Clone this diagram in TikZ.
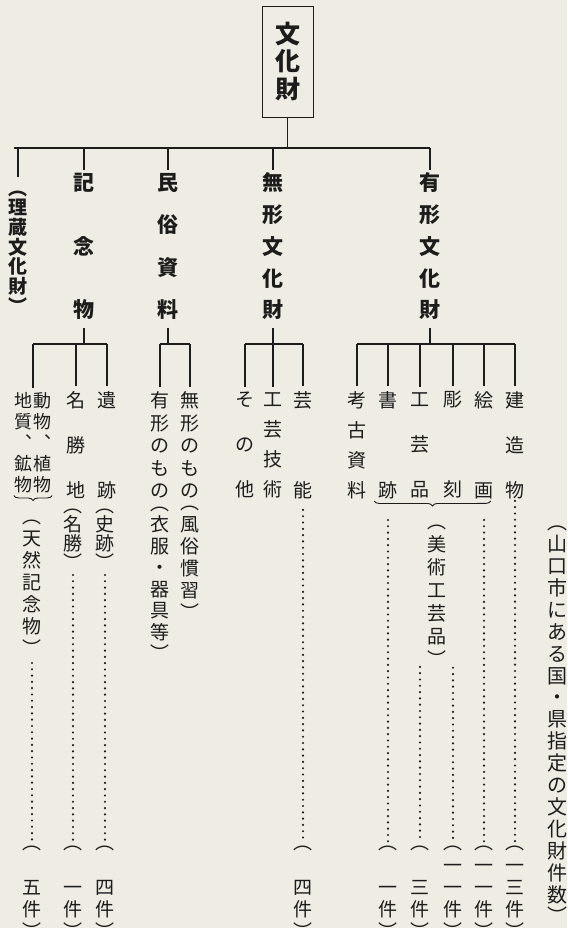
\documentclass[tikz,border=0pt]{standalone}
\usepackage{fontspec}
\newfontfamily\jp{Noto Sans CJK JP}
\usetikzlibrary{positioning, decorations.pathreplacing}
\definecolor{paper}{RGB}{239,236,228}
\definecolor{ink}{RGB}{28,28,28}
\lineskiplimit=-100pt

\begin{document}
\begin{tikzpicture}[x=1pt, y=-1pt,
  every node/.style={inner sep=0pt, align=center, text=ink},
  head/.style={font={\jp\bfseries\fontsize{21}{#1}\selectfont}},
  item/.style={font={\jp\fontsize{19}{#1}\selectfont}},
  link/.style={draw=ink, line width=1.2pt},
  dots/.style={draw=ink, line width=2.4pt, line cap=round, dash pattern=on 0pt off 6.3pt},
  curly/.style={draw=ink, line width=0.9pt, decorate, decoration={brace, mirror, amplitude=5pt, raise=2pt}}]
\useasboundingbox (0,0) rectangle (567,928);
\fill[paper] (0,0) rectangle (567,928);

% Root box
\node[draw=ink, line width=0.9pt, minimum width=51pt, minimum height=111pt,
      font={\jp\bfseries\fontsize{25}{27.5}\selectfont}] (root) at (287.5,61.5) {文\\化\\財};

% Main bar
\coordinate (busL) at (14,148);
\coordinate (busR) at (430,148);
\draw[link, line width=1.9pt] (busL) -- (busR);
\draw[link] (root) -- (root |- busL);

% First level
\node[head=19.7, font={\jp\bfseries\fontsize{19}{19.7}\selectfont}] (maizo) at (18,252) {︵\\理\\蔵\\文\\化\\財\\︶};
\node[head=63.5] (kinen) at (84,246.5) {記\\念\\物};
\node[head=42.33] (minzoku) at (168,246.5) {民\\俗\\資\\料};
\node[head=31.75] (mukei) at (273,246.5) {無\\形\\文\\化\\財};
\node[head=31.75] (yukei) at (430,246.5) {有\\形\\文\\化\\財};

\draw[link] (maizo |- busL) -- ([yshift=13pt]maizo.north);
\foreach \n in {kinen, minzoku, mukei, yukei}
  \draw[link] (\n |- busL) -- ([yshift=3pt]\n.north);

% Kinenbutsu group
\coordinate (kbar) at (84,344);
\node[font={\jp\fontsize{18}{21}\selectfont}] (shizen) at (33,443)
  {地\kern2pt動\\質\kern2pt物\\︑\kern2pt︑\\鉱\kern2pt植\\物\kern2pt物};
\node[item=45] (meisho) at (76,445) {名\\勝\\地};
\node[item=90] (iseki) at (107,445) {遺\\跡};
\draw[curly] (shizen.south west) -- (shizen.south east);
\node[item=22] (tennen) at (32,588) {︵\\天\\然\\記\\念\\物\\︶};
\node[item=19] (meisho2) at (73,539.5) {︵\\名\\勝\\︶};
\node[item=19] (shiseki) at (105,539.5) {︵\\史\\跡\\︶};

\draw[link] ([yshift=-8pt]kinen.south) -- (kbar);
\draw[link] (shizen |- kbar) -- (iseki |- kbar);
\foreach \n in {shizen, meisho, iseki}
  \draw[link] (\n |- kbar) -- ([yshift=5pt]\n.north);

% Minzoku shiryo group
\coordinate (mbar) at (168,344);
\node[item=22.5] (yumono) at (160,445) {有\\形\\の\\も\\の};
\node[item=22.5] (mumono) at (190,445) {無\\形\\の\\も\\の};
\node[item=21.5] (ifuku) at (160,583.5) {︵\\衣\\服\\・\\器\\具\\等\\︶};
\node[item=22] (fuzoku) at (190,563) {︵\\風\\俗\\慣\\習\\︶};

\draw[link] ([yshift=-8pt]minzoku.south) -- (mbar);
\draw[link] (yumono |- mbar) -- (mumono |- mbar);
\foreach \n in {yumono, mumono}
  \draw[link] (\n |- mbar) -- ([yshift=5pt]\n.north);

% Mukei bunkazai group
\coordinate (nbar) at (273,344);
\node[item=45] (sonota) at (245,445) {そ\\の\\他};
\node[item=30] (gijutsu) at (273,445) {工\\芸\\技\\術};
\node[item=90] (geino) at (303,445) {芸\\能};

\draw[link] ([yshift=-8pt]mukei.south) -- (nbar);
\draw[link] (sonota |- nbar) -- (geino |- nbar);
\foreach \n in {sonota, gijutsu, geino}
  \draw[link] (\n |- nbar) -- ([yshift=5pt]\n.north);

% Yukei bunkazai group
\coordinate (ybar) at (430,344);
\node[item=30] (kouko) at (357,445) {考\\古\\資\\料};
\node[item=90] (shoseki) at (388,445) {書\\跡};
\node[item=45] (kougei) at (420,445) {工\\芸\\品};
\node[item=90] (chokoku) at (453,445) {彫\\刻};
\node[item=90] (kaiga) at (484,445) {絵\\画};
\node[item=45] (kenzo) at (515,445) {建\\造\\物};
\draw[curly] ([xshift=-4pt]shoseki.south west) -- ([xshift=-3pt]kaiga.south east);
\node[item=23] (bijutsu) at (437,596) {︵\\美\\術\\工\\芸\\品\\︶};

\draw[link] ([yshift=-8pt]yukei.south) -- (ybar);
\draw[link] (kouko |- ybar) -- (kenzo |- ybar);
\foreach \n in {kouko, shoseki, kougei, chokoku, kaiga, kenzo}
  \draw[link] (\n |- ybar) -- ([yshift=5pt]\n.north);

% Counts
\node[item=22.25] (cTennen) at (32,892.5) {︵\\　\\五\\件\\︶};
\node[item=22.25] (cMeisho) at (73,892.5) {︵\\　\\一\\件\\︶};
\node[item=22.25] (cShiseki) at (105,892.5) {︵\\　\\四\\件\\︶};
\node[item=22.25] (cGeino) at (303,892.5) {︵\\　\\四\\件\\︶};
\node[item=22.25] (cShoseki) at (388,892.5) {︵\\　\\一\\件\\︶};
\node[item=22.25] (cKougei) at (420,892.5) {︵\\　\\三\\件\\︶};
\node[item=22.25] (cChokoku) at (453,892.5) {︵\\一\\一\\件\\︶};
\node[item=22.25] (cKaiga) at (484,892.5) {︵\\一\\一\\件\\︶};
\node[item=22.25] (cKenzo) at (515,892.5) {︵\\一\\三\\件\\︶};

\draw[dots, shorten <=7pt, shorten >=4pt] (tennen) -- (cTennen);
\draw[dots, shorten <=5pt, shorten >=4pt] (meisho2) -- (cMeisho);
\draw[dots, shorten <=5pt, shorten >=4pt] (shiseki) -- (cShiseki);
\draw[dots, shorten <=11pt, shorten >=4pt] (geino) -- (cGeino);
\draw[dots, shorten <=21pt, shorten >=4pt] (shoseki) -- (cShoseki);
\draw[dots, shorten <=169pt, shorten >=4pt] (kougei) -- (cKougei);
\draw[dots, shorten <=169pt, shorten >=4pt] (chokoku) -- (cChokoku);
\draw[dots, shorten <=21pt, shorten >=4pt] (kaiga) -- (cKaiga);
\draw[dots, shorten <=2pt, shorten >=4pt] (kenzo) -- (cKenzo);

% Caption
\node[item=21.9, font={\jp\fontsize{20}{21.9}\selectfont}] (title) at (557,725)
  {︵\\山\\口\\市\\に\\あ\\る\\国\\・\\県\\指\\定\\の\\文\\化\\財\\件\\数\\︶};

\end{tikzpicture}
\end{document}
